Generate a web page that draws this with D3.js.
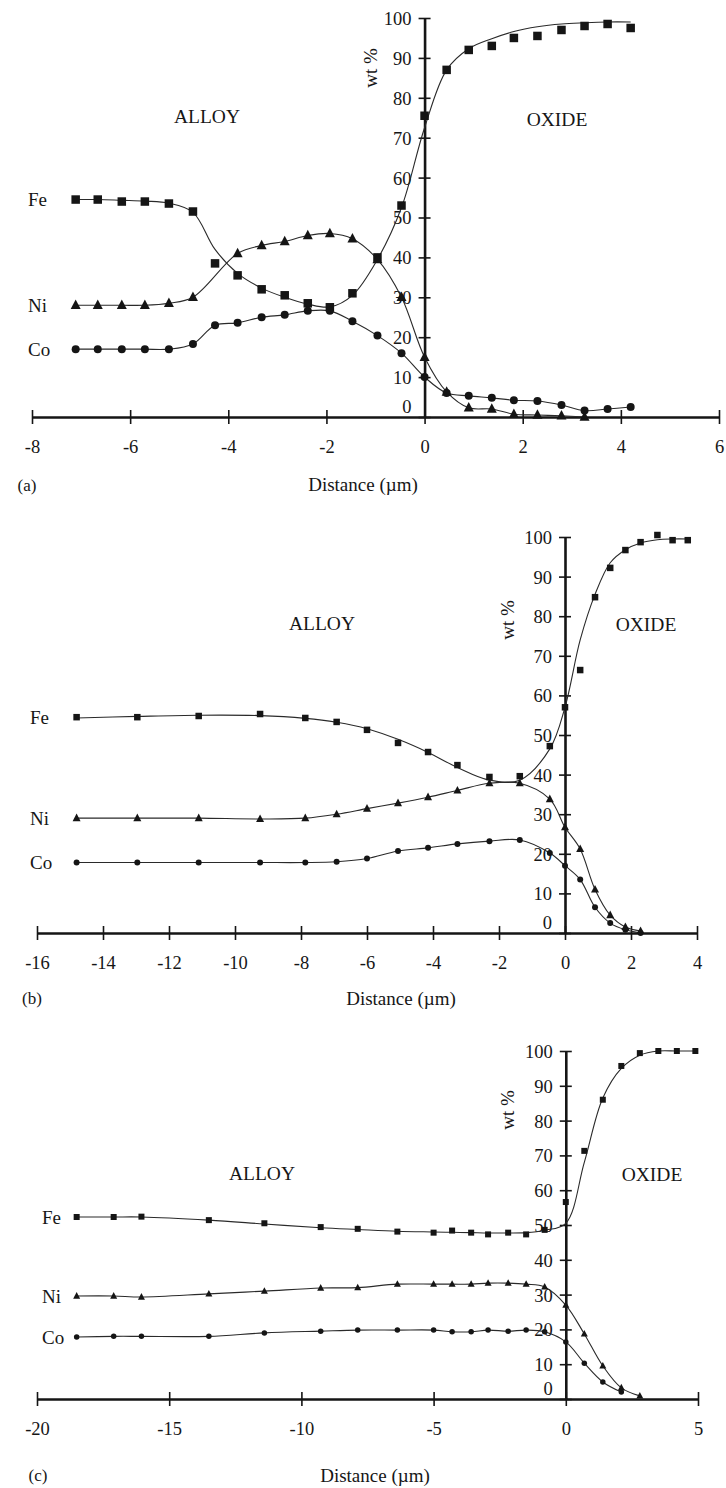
<!DOCTYPE html>
<html>
<head>
<meta charset="utf-8">
<script src="https://cdn.jsdelivr.net/npm/d3@7"></script>
<style>
  body { margin: 0; background: #fff; }
  svg { display: block; }
  text { font-family: "Liberation Serif", "Times New Roman", serif; fill: #161616; }
  .tick text { font-size: 18.5px; }
  .region { font-size: 19.5px; }
  .elem { font-size: 19px; }
  .axis-title { font-size: 19px; }
  .panel-tag { font-size: 17px; }
</style>
</head>
<body>
<svg id="chart" width="726" height="1488"></svg>
<script>
// Concentration profiles across the alloy / oxide interface (wt %)

// ---------- panel (a) ----------
const xA      = [-7.11, -6.66, -6.17, -5.70, -5.21, -4.72, -4.27, -3.81, -3.32, -2.85, -2.38, -1.93, -1.47, -0.96, -0.47, 0, 0.45, 0.90, 1.37, 1.82, 2.30, 2.79, 3.26, 3.73, 4.20];
const feA     = [54.5, 54.5, 54, 54, 53.5, 51.5, 38.5, 35.5, 32, 30.5, 28.5, 27.5, 31, 40, 53, 75.5, 87, 92, 93, 95, 95.5, 97, 98, 98.5, 97.5];
const feFitA  = [54.5, 54.5, 54.3, 54.1, 53.6, 51.3, 42, 36, 32.3, 30, 28.3, 27.6, 30.5, 39.5, 52.5, 72.5, 87, 92.3, 94.8, 96.6, 97.8, 98.5, 98.8, 99, 99];
const niA     = [28, 28, 28, 28, 28.5, 30, null, 41, 43, 44, 45.5, 46, 44.7, 39.5, 30, 15, 6.3, 2.3, 2, 0.7, 0.5, 0.3, 0];
const coA     = [17, 17, 17, 17, 17, 18.3, 23, 23.6, 25, 25.6, 26.6, 26.6, 24, 20.4, 16, 10, 6, 5.3, 4.8, 4.2, 4, 3, 1.6, 2, 2.5];
const xTicksA = [-8, -6, -4, -2, 0, 2, 4, 6];

// ---------- panel (b) ----------
const xB      = [-14.8, -12.96, -11.1, -9.24, -7.87, -6.92, -6.0, -5.06, -4.15, -3.26, -2.29, -1.37, -0.46, 0, 0.46, 0.91, 1.37, 1.83, 2.29, 2.80, 3.26, 3.72];
const feB     = [54.5, 54.5, 54.8, 55.3, 54.3, 53.3, 51.3, 48, 45.7, 42.4, 39.4, 39.6, 47.2, 57, 66.4, 84.8, 92.2, 96.7, 98.7, 100.5, 99.2, 99.2];
const feFitB  = [54.3, 54.7, 55, 54.9, 54.2, 53.2, 51.6, 48.9, 45.6, 41.8, 38.6, 38.6, 46.5, 57, 74, 85.5, 93.5, 96.8, 98.5, 99.3, 99.5, 99.5];
const niB     = [29, 29, 29, 28.8, 29, 30, 31.4, 32.8, 34.3, 36, 37.8, 37.8, 33.8, 26.7, 21.2, 11, 4.5, 1.5, 0.5];
const coB     = [17.8, 17.8, 17.8, 17.8, 17.8, 18, 18.8, 20.7, 21.5, 22.5, 23.2, 23.5, 20.2, 17, 13.5, 6.5, 2.5, 0.8, 0];
const xTicksB = [-16, -14, -12, -10, -8, -6, -4, -2, 0, 2, 4];

// ---------- panel (c) ----------
const xC      = [-18.5, -17.1, -16.05, -13.5, -11.4, -9.27, -7.87, -6.37, -5.0, -4.3, -3.58, -2.94, -2.18, -1.5, -0.8, 0, 0.70, 1.40, 2.10, 2.80, 3.50, 4.20, 4.90];
const feC     = [52.3, 52.3, 52.4, 51.4, 50.5, 49.4, 48.9, 48.1, 47.8, 48.4, 47.8, 47.3, 47.8, 47.3, 48.6, 56.6, 71.3, 86, 95.7, 99.4, 100, 100, 100];
const feFitC  = [52.3, 52.3, 52.3, 51.4, 50.3, 49.2, 48.7, 48.2, 48, 47.9, 47.8, 47.7, 47.7, 47.8, 48.5, 50.5, 68, 86.5, 95, 98.8, 100, 100, 100];
const niC     = [29.6, 29.6, 29.3, 30.2, 31, 31.9, 32, 33, 33, 33, 33, 33.3, 33.3, 33, 32.2, 27, 18.7, 9.5, 3.2, 0.9];
const coC     = [17.8, 18, 18, 18, 19, 19.5, 19.8, 19.8, 19.8, 19.3, 19.3, 19.8, 19.5, 19.8, 19.3, 16.4, 10.3, 4.9, 2];
const xTicksC = [-20, -15, -10, -5, 0, 5];

const yTicks = [0, 10, 20, 30, 40, 50, 60, 70, 80, 90, 100];

// ---------- layout ----------
const panels = [
  { tag: "(a)", xDomain: [-8, 6],  xRange: [32, 719], yRange: [417, 18],   xTicks: xTicksA,
    series: [
      { name: "Fe", shape: "square",   x: xA, v: feA, fit: feFitA },
      { name: "Ni", shape: "triangle", x: xA, v: niA },
      { name: "Co", shape: "circle",   x: xA, v: coA } ],
    sizes: { square: 8.5, triangle: 10, circle: 8 },
    elemX: 28, alloy: [207, 116], oxide: [557, 119], wt: [370, 68],
    title: [363, 484], tagPos: [27, 485] },
  { tag: "(b)", xDomain: [-16, 4], xRange: [37, 697], yRange: [933, 537],  xTicks: xTicksB,
    series: [
      { name: "Fe", shape: "square",   x: xB, v: feB, fit: feFitB },
      { name: "Ni", shape: "triangle", x: xB, v: niB },
      { name: "Co", shape: "circle",   x: xB, v: coB } ],
    sizes: { square: 6.5, triangle: 8, circle: 6 },
    elemX: 30, alloy: [322, 623], oxide: [646, 624], wt: [507, 620],
    title: [401, 998], tagPos: [32, 998] },
  { tag: "(c)", xDomain: [-20, 5], xRange: [37, 698], yRange: [1399, 1051], xTicks: xTicksC,
    series: [
      { name: "Fe", shape: "square",   x: xC, v: feC, fit: feFitC },
      { name: "Ni", shape: "triangle", x: xC, v: niC },
      { name: "Co", shape: "circle",   x: xC, v: coC } ],
    sizes: { square: 6, triangle: 7, circle: 5.5 },
    elemX: 42, alloy: [262, 1173], oxide: [652, 1174], wt: [507, 1110],
    title: [375, 1475], tagPos: [38, 1475] }
];

const svg = d3.select("#chart");
const fmt = d => (d < 0 ? "-" + Math.abs(d) : String(d));
const ink = "#151515";

panels.forEach(p => {
  const x = d3.scaleLinear().domain(p.xDomain).range(p.xRange);
  const y = d3.scaleLinear().domain([0, 100]).range(p.yRange);
  const g = svg.append("g");

  // horizontal distance axis with cross ticks
  const xAxis = g.append("g")
    .attr("transform", `translate(0,${y(0)})`)
    .call(d3.axisBottom(x).tickValues(p.xTicks).tickFormat(fmt).tickSizeOuter(0));
  xAxis.attr("font-family", null).attr("font-size", null);
  xAxis.select(".domain").attr("stroke", ink).attr("stroke-width", 2.6);
  xAxis.selectAll(".tick line").attr("stroke", ink).attr("stroke-width", 1.6).attr("y1", -7).attr("y2", 7);
  xAxis.selectAll(".tick text").attr("y", 30).attr("dy", "0.35em");

  // vertical wt % axis at the interface (x = 0)
  const yAxis = g.append("g")
    .attr("transform", `translate(${x(0)},0)`)
    .call(d3.axisLeft(y).tickValues(yTicks).tickFormat(fmt).tickSizeOuter(0));
  yAxis.attr("font-family", null).attr("font-size", null);
  yAxis.select(".domain").attr("stroke", ink).attr("stroke-width", 2.6);
  yAxis.selectAll(".tick line").attr("stroke", ink).attr("stroke-width", 1.6).attr("x1", -6).attr("x2", 6);
  yAxis.selectAll(".tick text").attr("x", -13).attr("dy", d => d === 0 ? "-0.25em" : "0.35em");

  // smoothed profile lines
  const line = d3.line()
    .x(d => x(d[0])).y(d => y(d[1]))
    .curve(d3.curveCatmullRom.alpha(0.5));
  p.series.forEach(s => {
    const vals = s.fit || s.v;
    const pts = vals.map((v, i) => [s.x[i], v]).filter(d => d[1] != null);
    g.append("path").attr("d", line(pts))
      .attr("fill", "none").attr("stroke", "#2a2a2a").attr("stroke-width", 1.1);
  });

  // measured points
  p.series.forEach(s => {
    const pts = s.v.map((v, i) => [s.x[i], v]).filter(d => d[1] != null);
    const sz = p.sizes[s.shape];
    const m = g.append("g").attr("fill", ink);
    if (s.shape === "square") {
      m.selectAll("rect").data(pts).join("rect")
        .attr("x", d => x(d[0]) - sz / 2).attr("y", d => y(d[1]) - sz / 2)
        .attr("width", sz).attr("height", sz);
    } else if (s.shape === "triangle") {
      const h = sz * 0.95;
      m.selectAll("path").data(pts).join("path")
        .attr("d", d => {
          const cx = x(d[0]), cy = y(d[1]);
          return `M${cx},${cy - h * 0.6}L${cx + sz / 2},${cy + h * 0.4}L${cx - sz / 2},${cy + h * 0.4}Z`;
        });
    } else {
      m.selectAll("circle").data(pts).join("circle")
        .attr("cx", d => x(d[0])).attr("cy", d => y(d[1])).attr("r", sz / 2);
    }
    // element name beside the first point
    g.append("text").attr("class", "elem")
      .attr("x", p.elemX).attr("y", y(s.v[0])).attr("dy", "0.35em")
      .text(s.name);
  });

  // region names
  g.append("text").attr("class", "region").attr("text-anchor", "middle")
    .attr("x", p.alloy[0]).attr("y", p.alloy[1]).attr("dy", "0.35em").text("ALLOY");
  g.append("text").attr("class", "region").attr("text-anchor", "middle")
    .attr("x", p.oxide[0]).attr("y", p.oxide[1]).attr("dy", "0.35em").text("OXIDE");

  // axis titles and panel tag
  g.append("text").attr("class", "axis-title").attr("text-anchor", "middle")
    .attr("transform", `translate(${p.wt[0]},${p.wt[1]}) rotate(-90)`)
    .attr("dy", "0.35em").text("wt %");
  g.append("text").attr("class", "axis-title").attr("text-anchor", "middle")
    .attr("x", p.title[0]).attr("y", p.title[1]).attr("dy", "0.35em").text("Distance (µm)");
  g.append("text").attr("class", "panel-tag").attr("text-anchor", "middle")
    .attr("x", p.tagPos[0]).attr("y", p.tagPos[1]).attr("dy", "0.35em").text(p.tag);
});
</script>
</body>
</html>
